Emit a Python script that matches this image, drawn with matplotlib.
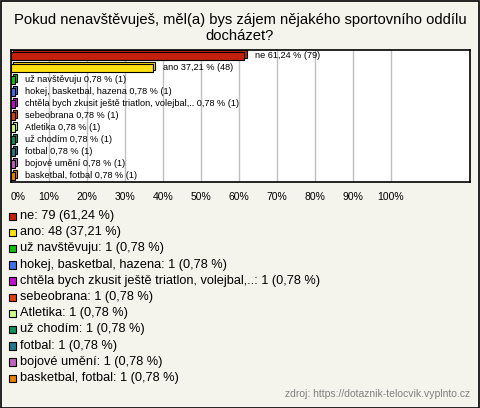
import matplotlib.pyplot as plt
from matplotlib.patches import Rectangle

plt.rcParams['font.family'] = ['Liberation Sans', 'DejaVu Sans']

title = "Pokud nenavštěvuješ, měl(a) bys zájem nějakého sportovního oddílu\ndocházet?"
categories = ["ne", "ano", "už navštěvuju", "hokej, basketbal, hazena",
              "chtěla bych zkusit ještě triatlon, volejbal,..", "sebeobrana",
              "Atletika", "už chodím", "fotbal", "bojové umění", "basketbal, fotbal"]
counts = [79, 48, 1, 1, 1, 1, 1, 1, 1, 1, 1]
percents = [61.24, 37.21, 0.78, 0.78, 0.78, 0.78, 0.78, 0.78, 0.78, 0.78, 0.78]
colors = ["#c4200c", "#ffe010", "#10c010", "#4070e8", "#c010d0", "#e04010",
          "#ccff88", "#10905a", "#207888", "#c060c0", "#e88000"]
ticks = [0, 10, 20, 30, 40, 50, 60, 70, 80, 90, 100]


def pct(p):
    return f"{p:.2f}".replace(".", ",")


W, H = 480, 408
fig = plt.figure(figsize=(W / 100, H / 100), dpi=100)
fig.patch.set_facecolor("#f4f3ec")
fig.patches.append(Rectangle((0.5 / W, 0.5 / H), 1 - 1.5 / W, 1 - 1.5 / H,
                             transform=fig.transFigure, fill=False,
                             edgecolor="black", linewidth=1.2))

fig.text(0.5, 1 - 28 / H, title, ha="center", va="center", fontsize=10.6,
         linespacing=1.1)

# plot area
ax = fig.add_axes([11 / W, 1 - 182 / H, 459 / W, 132 / H])
ax.set_facecolor("white")
ax.set_xlim(0, 120.8)
ax.set_ylim(len(categories) - 0.5, -0.5)
for s in ax.spines.values():
    s.set_linewidth(1.2)
ax.set_xticks(ticks)
ax.set_xticklabels([f"{t}%" for t in ticks], fontsize=7.5)
ax.get_xticklabels()[0].set_ha("left")
ax.tick_params(axis="x", length=0, pad=7)
ax.set_yticks([])
ax.grid(axis="x", color="#c0c0c0", linewidth=1)
ax.set_axisbelow(True)

dx, dy = 0.55, 0.17
for i, (cat, c, p, col) in enumerate(zip(categories, counts, percents, colors)):
    w = p + 0.2
    ax.barh(i - dy, w, left=dx, height=0.6, color=col, edgecolor="black",
            linewidth=0.8, zorder=3)
    ax.barh(i, w, height=0.6, color=col, edgecolor="black", linewidth=0.8,
            zorder=4)
    ax.text(w + dx + 2.1, i - 0.05, f"{cat} {pct(p)} % ({c})",
            va="center", ha="left", fontsize=6.6, zorder=5)

# legend
for i, (cat, c, p, col) in enumerate(zip(categories, counts, percents, colors)):
    yc = 216 + 16.2 * i
    fig.patches.append(Rectangle((8.5 / W, 1 - (yc + 4) / H), 7.5 / W, 7.5 / H,
                                 transform=fig.transFigure, facecolor=col,
                                 edgecolor="black", linewidth=0.8))
    fig.text(20 / W, 1 - yc / H, f"{cat}: {c} ({pct(p)} %)",
             ha="left", va="center", fontsize=9.2)

fig.text(470 / W, 1 - 394 / H, "zdroj: https://dotaznik-telocvik.vyplnto.cz",
         ha="right", va="center", fontsize=7.5, color="#808080")

fig.savefig("out.png", dpi=100, facecolor=fig.get_facecolor())
